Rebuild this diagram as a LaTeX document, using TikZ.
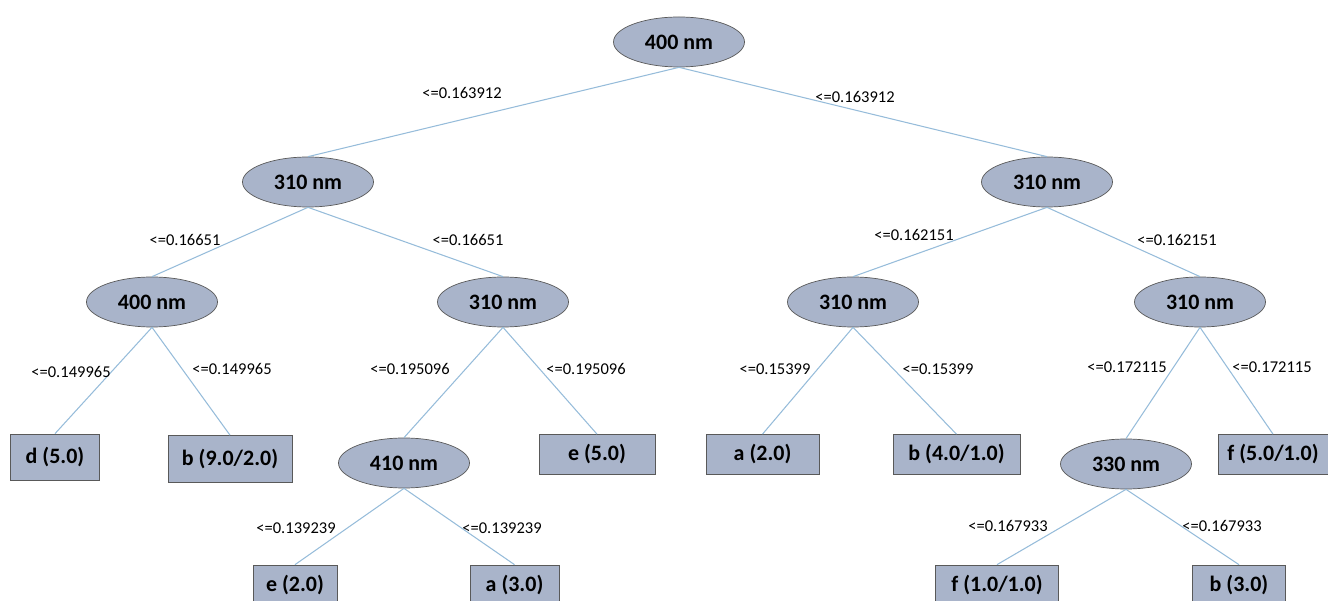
\documentclass[tikz,border=0pt]{standalone}
\usepackage{fontspec}
\setmainfont{Carlito}
\usetikzlibrary{shapes.geometric,positioning}

\definecolor{nodefill}{RGB}{169,180,202}
\definecolor{nodeline}{RGB}{89,89,89}
\definecolor{branchblue}{RGB}{150,188,218}

\begin{document}
\begin{tikzpicture}[
        branch/.style = {draw=branchblue, line width=0.6pt}, % line style
        cond/.style = {inner sep=0pt, font=\fontsize{9.4}{11}\selectfont}, % split labels
        auto
      ]

      \tikzstyle{split}=[ellipse,draw=nodeline,fill=nodefill,minimum width=2.62cm,minimum height=1cm,inner sep=0pt,font=\bfseries\fontsize{12.5}{14}\selectfont]
      \tikzstyle{leaf}=[rectangle,draw=nodeline,fill=nodefill,minimum height=0.8cm,inner sep=0pt,font=\bfseries\fontsize{12.5}{14}\selectfont]

      \useasboundingbox (0,0) rectangle (26.56,-12.02);

      % inner nodes
      \node[split] (root) at (13.58,-0.84) {400 nm};
      \node[split] (l) [below of=root, node distance=2.8cm, xshift=-7.42cm] {310 nm};
      \node[split] (r) [below of=root, node distance=2.8cm, xshift=7.36cm] {310 nm};
      \node[split] (ll) [below of=l, node distance=2.4cm, xshift=-3.12cm] {400 nm};
      \node[split] (lr) [below of=l, node distance=2.4cm, xshift=3.9cm] {310 nm};
      \node[split] (rl) [below of=r, node distance=2.4cm, xshift=-3.88cm] {310 nm};
      \node[split] (rr) [below of=r, node distance=2.4cm, xshift=3.06cm] {310 nm};
      \node[split] (lrl) [below of=lr, node distance=3.22cm, xshift=-1.98cm] {410 nm};
      \node[split] (rrl) [below of=rr, node distance=3.24cm, xshift=-1.48cm] {330 nm};

      % leaves
      \node[leaf, minimum width=1.78cm, minimum height=0.92cm] (d5) [below of=ll, node distance=3.1cm, xshift=-1.94cm] {d (5.0)};
      \node[leaf, minimum width=2.48cm, minimum height=0.94cm] (b92) [below of=ll, node distance=3.14cm, xshift=1.56cm] {b (9.0/2.0)};
      \node[leaf, minimum width=2.32cm] (e5) [below of=lr, node distance=3.05cm, xshift=1.88cm] {e (5.0)};
      \node[leaf, minimum width=2.26cm] (a2) [below of=rl, node distance=3.05cm, xshift=-1.81cm] {a (2.0)};
      \node[leaf, minimum width=2.54cm] (b41) [below of=rl, node distance=3.05cm, xshift=2.07cm] {b (4.0/1.0)};
      \node[leaf, minimum width=2.2cm] (f51) [below of=rr, node distance=3.05cm, xshift=1.46cm] {f (5.0/1.0)};
      \node[leaf, minimum width=1.68cm] (e2) [below of=lrl, node distance=2.44cm, xshift=-2.18cm] {e (2.0)};
      \node[leaf, minimum width=1.78cm] (a3) [below of=lrl, node distance=2.44cm, xshift=2.21cm] {a (3.0)};
      \node[leaf, minimum width=2.46cm] (f11) [below of=rrl, node distance=2.42cm, xshift=-2.58cm] {f (1.0/1.0)};
      \node[leaf, minimum width=1.86cm] (b3) [below of=rrl, node distance=2.42cm, xshift=2.26cm] {b (3.0)};

      % branches
      \draw[branch] (root.south) edge (l.north) edge (r.north);
      \draw[branch] (l.south) edge (ll.north) edge (lr.north);
      \draw[branch] (r.south) edge (rl.north) edge (rr.north);
      \draw[branch] (ll.south) edge (d5.north) edge (b92.north);
      \draw[branch] (lr.south) edge (lrl.north) edge (e5.north);
      \draw[branch] (rl.south) edge (a2.north) edge (b41.north);
      \draw[branch] (rr.south) edge (rrl.north) edge (f51.north);
      \draw[branch] (lrl.south) edge (e2.north) edge (a3.north);
      \draw[branch] (rrl.south) edge (f11.north) edge (b3.north);

      % thresholds
      \node[cond] (root-l) [below of=root, node distance=1.02cm, xshift=-4.34cm] {<=0.163912};
      \node[cond] (root-r) [below of=root, node distance=1.1cm, xshift=3.52cm] {<=0.163912};
      \node[cond] (l-l) [below of=l, node distance=1.16cm, xshift=-2.46cm] {<=0.16651};
      \node[cond] (l-r) [below of=l, node distance=1.16cm, xshift=3.2cm] {<=0.16651};
      \node[cond] (r-l) [below of=r, node distance=1.06cm, xshift=-2.66cm] {<=0.162151};
      \node[cond] (r-r) [below of=r, node distance=1.16cm, xshift=2.6cm] {<=0.162151};
      \node[cond] (ll-l) [below of=ll, node distance=1.4cm, xshift=-1.62cm] {<=0.149965};
      \node[cond] (ll-r) [below of=ll, node distance=1.34cm, xshift=1.6cm] {<=0.149965};
      \node[cond] (lr-l) [below of=lr, node distance=1.34cm, xshift=-1.86cm] {<=0.195096};
      \node[cond] (lr-r) [below of=lr, node distance=1.34cm, xshift=1.66cm] {<=0.195096};
      \node[cond] (rl-l) [below of=rl, node distance=1.34cm, xshift=-1.56cm] {<=0.15399};
      \node[cond] (rl-r) [below of=rl, node distance=1.34cm, xshift=1.7cm] {<=0.15399};
      \node[cond] (rr-l) [below of=rr, node distance=1.3cm, xshift=-1.46cm] {<=0.172115};
      \node[cond] (rr-r) [below of=rr, node distance=1.3cm, xshift=1.44cm] {<=0.172115};
      \node[cond] (lrl-l) [below of=lrl, node distance=1.3cm, xshift=-2.16cm] {<=0.139239};
      \node[cond] (lrl-r) [below of=lrl, node distance=1.3cm, xshift=1.96cm] {<=0.139239};
      \node[cond] (rrl-l) [below of=rrl, node distance=1.24cm, xshift=-2.36cm] {<=0.167933};
      \node[cond] (rrl-r) [below of=rrl, node distance=1.24cm, xshift=1.92cm] {<=0.167933};

    \end{tikzpicture}
\end{document}
